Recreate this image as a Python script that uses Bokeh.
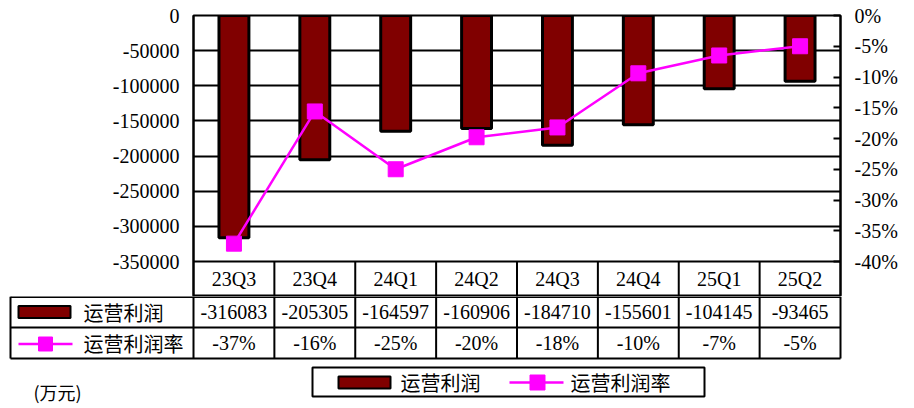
from bokeh.plotting import figure
from bokeh.layouts import column
from bokeh.models import Range1d, LinearAxis, FixedTicker, CustomJSTickFormatter, PrintfTickFormatter
from bokeh.core.properties import value
from bokeh.embed import file_html
from bokeh.resources import INLINE

# ---------------- data ----------------
categories = ["23Q3", "23Q4", "24Q1", "24Q2", "24Q3", "24Q4", "25Q1", "25Q2"]
profit = [-316083, -205305, -164597, -160906, -184710, -155601, -104145, -93465]
rate = [-0.371, -0.156, -0.250, -0.198, -0.182, -0.094, -0.065, -0.050]
rate_labels = ["-37%", "-16%", "-25%", "-20%", "-18%", "-10%", "-7%", "-5%"]
left_ticks = [0, -50000, -100000, -150000, -200000, -250000, -300000, -350000]
right_ticks = [0, -0.05, -0.10, -0.15, -0.20, -0.25, -0.30, -0.35, -0.40]
series_names = ["运营利润", "运营利润率"]
unit_label = "(万元)"

# ---------------- style / layout ----------------
BAR_FILL = "#800000"
LINE_COL = "#FF00FF"
NUM_FONT = "Liberation Serif"
AXIS_FONT = "'Liberation Serif', serif"
CJK_FONT = "Noto Sans CJK SC"
FS = "20px"

W = 912
H = 406
FRAME_L, FRAME_R = 193, 840
FRAME_T, AXIS_B = 15, 261
HEAD_B, ROW1_B, ROW2_B = 296, 327, 358
n = len(categories)
cw = (FRAME_R - FRAME_L) / n

ymin, ymax = left_ticks[-1], left_ticks[0]
rmin, rmax = right_ticks[-1], right_ticks[0]
ext = (HEAD_B - AXIS_B) / (AXIS_B - FRAME_T)
y_start = ymin - (ymax - ymin) * ext
r_start = rmin - (rmax - rmin) * ext


def yv(py):
    return ymax - (py - FRAME_T) / (AXIS_B - FRAME_T) * (ymax - ymin)


xs = [i + 0.5 for i in range(n)]

# ---------------- top chart ----------------
top_h = HEAD_B
p = figure(width=W, height=top_h, output_backend="svg", toolbar_location=None,
           x_range=Range1d(0, n), y_range=Range1d(y_start, ymax),
           x_axis_location=None, y_axis_location="left",
           min_border_left=FRAME_L, min_border_right=W - FRAME_R,
           min_border_top=FRAME_T, min_border_bottom=0)
p.frame_align = False
p.extra_y_ranges = {"rate": Range1d(r_start, rmax)}
p.outline_line_color = "black"
p.outline_line_width = 2
p.background_fill_color = "white"
p.border_fill_color = "white"

ya = p.yaxis[0]
ya.ticker = FixedTicker(ticks=left_ticks)
ya.formatter = PrintfTickFormatter(format="%d")
ya.major_tick_out = 0
ya.major_tick_in = 0
ya.minor_tick_out = 0
ya.minor_tick_in = 0
ya.axis_line_color = "black"
ya.axis_line_width = 2
ya.major_label_text_font = AXIS_FONT
ya.major_label_text_font_size = FS
ya.major_label_text_color = "black"
ya.major_label_standoff = 14

ra = LinearAxis(y_range_name="rate", ticker=FixedTicker(ticks=right_ticks),
                formatter=CustomJSTickFormatter(code="return Math.round(tick*100) + '%';"))
ra.major_tick_out = 0
ra.major_tick_in = 7
ra.major_tick_line_width = 2
ra.minor_tick_out = 0
ra.minor_tick_in = 0
ra.axis_line_color = "black"
ra.axis_line_width = 2
ra.major_label_text_font = AXIS_FONT
ra.major_label_text_font_size = FS
ra.major_label_text_color = "black"
ra.major_label_standoff = 14
p.add_layout(ra, "right")

p.xgrid.visible = False
p.ygrid.ticker = FixedTicker(ticks=left_ticks)
p.ygrid.grid_line_color = "black"
p.ygrid.grid_line_width = 2

p.vbar(x=xs, top=[0] * n, bottom=profit, width=0.37, fill_color=BAR_FILL,
       line_color="black", line_width=3)
p.line(x=xs, y=rate, y_range_name="rate", line_color=LINE_COL, line_width=2.5)
p.scatter(x=xs, y=rate, y_range_name="rate", marker="square", size=15,
          fill_color=LINE_COL, line_color=LINE_COL)

# header row of table (category labels) inside the extended frame
p.segment(x0=list(range(1, n)), x1=list(range(1, n)), y0=[ymin] * (n - 1), y1=[y_start] * (n - 1),
          line_color="black", line_width=2)
p.text(x=xs, y=[yv((AXIS_B + HEAD_B) / 2)] * n, text=categories, text_align="center",
       text_baseline="middle", text_font=value(NUM_FONT), text_font_size=FS, text_color="black")

# ---------------- bottom: data table and legend ----------------
bot_h = H - HEAD_B


def ux(px):
    return (px - FRAME_L) / cw


q = figure(width=W, height=bot_h, output_backend="svg", toolbar_location=None,
           x_range=Range1d(ux(0), ux(W)), y_range=Range1d(H, HEAD_B),
           x_axis_location=None, y_axis_location=None,
           min_border_left=0, min_border_right=0, min_border_top=0, min_border_bottom=0)
q.frame_align = False
q.outline_line_color = None
q.grid.visible = False
q.background_fill_color = "white"
q.border_fill_color = "white"

# table lines
hy = [HEAD_B + 0.5, ROW1_B, ROW2_B]
q.segment(x0=[ux(10)] * 3, x1=[ux(FRAME_R)] * 3, y0=hy, y1=hy, line_color="black", line_width=2)
vx = [ux(10)] + list(range(0, n + 1))
q.segment(x0=vx, x1=vx, y0=[HEAD_B] * len(vx), y1=[ROW2_B] * len(vx), line_color="black", line_width=2)

row1_y = (HEAD_B + ROW1_B) / 2
row2_y = (ROW1_B + ROW2_B) / 2
q.text(x=xs, y=[row1_y] * n, text=[str(v) for v in profit], text_align="center",
       text_baseline="middle", text_font=value(NUM_FONT), text_font_size=FS, text_color="black")
q.text(x=xs, y=[row2_y] * n, text=rate_labels, text_align="center",
       text_baseline="middle", text_font=value(NUM_FONT), text_font_size=FS, text_color="black")

# row legend keys
q.quad(left=[ux(18)], right=[ux(70)], top=[row1_y - 6], bottom=[row1_y + 6],
       fill_color=BAR_FILL, line_color="black", line_width=2)
q.line(x=[ux(18), ux(72)], y=[row2_y + 1, row2_y + 1], line_color=LINE_COL, line_width=2.5)
q.scatter(x=[ux(45)], y=[row2_y + 1], marker="square", size=14, fill_color=LINE_COL, line_color=LINE_COL)
q.text(x=[ux(83), ux(83)], y=[row1_y, row2_y], text=series_names, text_align="left",
       text_baseline="middle", text_font=value(CJK_FONT), text_font_size=FS, text_color="black")

# bottom legend box
q.quad(left=[ux(312)], right=[ux(704)], top=[367], bottom=[396], fill_color="white",
       line_color="black", line_width=2)
leg_y = 382
q.quad(left=[ux(338)], right=[ux(390)], top=[leg_y - 6], bottom=[leg_y + 6],
       fill_color=BAR_FILL, line_color="black", line_width=2)
q.line(x=[ux(509), ux(563)], y=[leg_y, leg_y], line_color=LINE_COL, line_width=2.5)
q.scatter(x=[ux(537)], y=[leg_y], marker="square", size=15, fill_color=LINE_COL, line_color=LINE_COL)
q.text(x=[ux(400), ux(570)], y=[leg_y, leg_y], text=series_names, text_align="left",
       text_baseline="middle", text_font=value(CJK_FONT), text_font_size=FS, text_color="black")

# unit label
q.text(x=[ux(33)], y=[391], text=[unit_label], text_align="left", text_baseline="middle",
       text_font=value(CJK_FONT), text_font_size="18px", text_color="black")

layout = column(p, q, spacing=0)
open("out.html", "w").write(file_html(layout, INLINE))
